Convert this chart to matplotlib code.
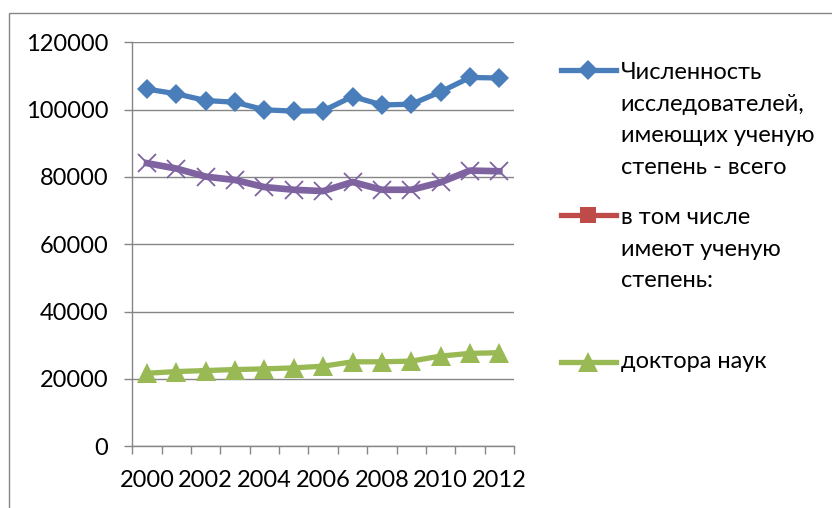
import matplotlib.pyplot as plt
import numpy as np
from matplotlib.lines import Line2D
from matplotlib.patches import Rectangle

plt.rcParams['font.family'] = ['Lato', 'DejaVu Sans']

# data
years = list(range(2000, 2013))
total = [106100, 104700, 102700, 102200, 99950, 99550, 99650,
         103900, 101400, 101600, 105300, 109550, 109400]
subhead = []          # "в том числе ..." row is empty in the sheet
candidates = [84100, 82500, 80100, 79100, 77000, 76200, 75800,
              78500, 76200, 76200, 78400, 81900, 81700]
doctors = [21700, 22200, 22500, 22800, 23000, 23300, 23800,
           25100, 25100, 25300, 26800, 27600, 27800]

legend_lines = [
    ['Численность', 'исследователей,', 'имеющих ученую', 'степень - всего'],
    ['в том числе', 'имеют ученую', 'степень:'],
    ['доктора наук'],
]

W, H = 832, 508
grey = '#868686'

blue = dict(color='#4A7EBB', lw=3.8, marker='D', ms=10.5, mew=0)
red = dict(color='#BE4B48', lw=3.8, marker='s', ms=11, mew=0)
purple = dict(color='#7F63A1', lw=4.8, marker='x', ms=12.5, mew=1.3)
green = dict(color='#98B954', lw=3.8, marker='^', ms=15, mew=0)

fig = plt.figure(figsize=(W / 100, H / 100), dpi=100)
ax = fig.add_axes([132.3 / W, 1 - 446.3 / H, (514 - 132.3) / W, (446.3 - 42.3) / H])

x = np.arange(len(years))
ax.plot(x, total, **blue)
ax.plot(x[:len(subhead)], subhead, **red)
ax.plot(x, candidates, **purple)
ax.plot(x, doctors, **green)

ax.set_ylim(0, 120000)
ax.set_yticks(np.arange(0, 120001, 20000))
ax.set_yticklabels([str(v) for v in range(0, 120001, 20000)])
ax.set_xlim(-0.5, len(years) - 0.5)
ax.set_xticks(x[::2])
ax.set_xticklabels([str(y) for y in years[::2]])
ax.set_xticks(np.arange(-0.5, len(years)), minor=True)

ax.grid(axis='y', color=grey, lw=1.0)
ax.set_axisbelow(True)
for s in ['top', 'right']:
    ax.spines[s].set_visible(False)
for s in ['left', 'bottom']:
    ax.spines[s].set_color(grey)
    ax.spines[s].set_linewidth(1.0)

ax.tick_params(axis='y', length=5.8, color=grey, width=1.0, pad=11.5, labelsize=17)
ax.tick_params(axis='x', which='major', length=0, pad=17, labelsize=17)
ax.tick_params(axis='x', which='minor', length=5.8, color=grey, width=1.0)

# legend drawn like the Excel one: handle next to the first text line
entries = [(blue, 70, 79.3), (red, 215, 224.3), (green, 361.7, 368.3)]
for (style, hy, by), lines in zip(entries, legend_lines):
    fig.add_artist(Line2D([560.7 / W, 588 / W, 615.7 / W], [1 - hy / H] * 3,
                          markevery=[1], transform=fig.transFigure, **style))
    for i, t in enumerate(lines):
        fig.text(620.7 / W, 1 - (by + i * 31.5) / H, t, fontsize=17, va='baseline')

fig.add_artist(Rectangle((8.5 / W, -0.5), 2, 0.5 + 1 - 12.5 / H, fill=False,
                         edgecolor=grey, lw=1.0, transform=fig.transFigure))

fig.savefig('out.png', dpi=100)
